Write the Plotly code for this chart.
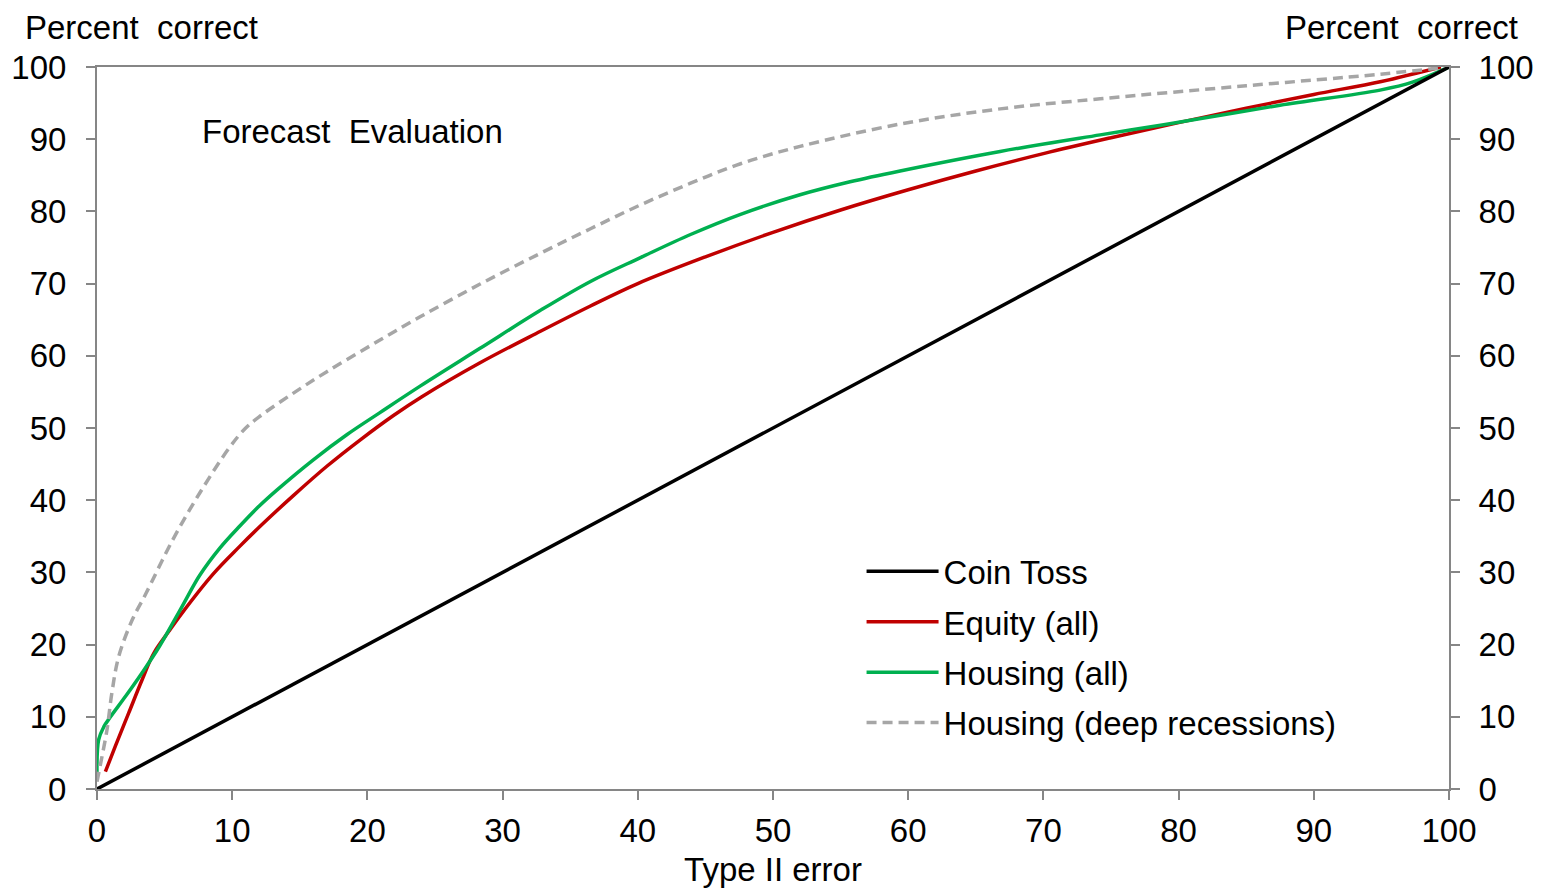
import plotly.graph_objects as go

# ---- data ----
coin_x = [0, 100]
coin_y = [0, 100]

equity_x = [0.62, 1.35, 2.34, 3.33, 4.2, 5.3, 6.3, 8.6, 10.5, 12.3, 14.5, 17.0, 19.5, 21.9, 24.0, 28.3,
            32.8, 36.5, 40.0, 45.0, 50.0, 55.0, 60.0, 65.0, 70.0, 75.0, 80.0, 85.0, 90.0, 95.0, 99.4]
equity_y = [2.4, 5.9, 10.5, 15.1, 18.8, 21.8, 24.4, 29.8, 33.5, 36.8, 40.6, 44.7, 48.4, 51.7, 54.3, 59.0,
            63.4, 66.9, 70.0, 73.7, 77.1, 80.2, 83.0, 85.6, 88.0, 90.2, 92.3, 94.3, 96.2, 98.0, 100.0]

housing_x = [0, 0.12, 0.5, 1.0, 2.1, 3.3, 4.6, 6.3, 7.6, 9.1, 10.6, 12.0, 13.3, 16.0, 18.5, 20.9, 23.9,
             28.3, 32.8, 36.5, 40.2, 43.9, 47.6, 52.0, 55.7, 59.4, 66.8, 74.2, 78.9, 87.5, 94.9, 97.3, 100]
housing_y = [1.7, 6.8, 8.6, 10.0, 12.8, 16.0, 19.7, 25.3, 29.6, 33.4, 36.5, 39.2, 41.4, 45.6, 49.1, 52.1, 55.8,
             61.0, 66.3, 70.3, 73.6, 76.8, 79.6, 82.3, 84.1, 85.6, 88.3, 90.6, 92.0, 94.7, 96.8, 97.9, 100]

deep_x = [0, 0.37, 0.74, 1.1, 1.6, 2.6, 3.6, 5.6, 7.6, 9.8, 11.0, 12.1, 14.5, 17.0, 20.4, 23.9, 28.3,
          32.8, 36.5, 40.2, 43.9, 47.6, 52.0, 59.4, 66.8, 74.2, 85.0, 94.9, 100]
deep_y = [1.0, 4.5, 8.2, 13.3, 18.3, 23.4, 27.0, 34.5, 41.0, 47.3, 50.0, 51.7, 54.8, 57.8, 61.6, 65.4, 69.9,
          74.2, 77.6, 80.9, 83.9, 86.6, 89.0, 92.1, 94.2, 95.6, 97.4, 99.0, 100]

x_ticks = list(range(0, 101, 10))
y_ticks = list(range(0, 101, 10))

FONT = "Liberation Sans, Arial, sans-serif"
FS = 33
AXIS_GRAY = "#868686"

fig = go.Figure()

fig.add_trace(go.Scatter(x=coin_x, y=coin_y, mode="lines", name="Coin Toss",
                         line=dict(color="black", width=3.5), cliponaxis=False,
                         legendgroup="a", yaxis="y2"))
fig.add_trace(go.Scatter(x=equity_x, y=equity_y, mode="lines", name="Equity (all)",
                         line=dict(color="#C00000", width=3.5, shape="spline", smoothing=1.0),
                         cliponaxis=False, legendgroup="b"))
fig.add_trace(go.Scatter(x=housing_x, y=housing_y, mode="lines", name="Housing (all)",
                         line=dict(color="#00B050", width=3.5, shape="spline", smoothing=1.0),
                         cliponaxis=False, legendgroup="c"))
fig.add_trace(go.Scatter(x=deep_x, y=deep_y, mode="lines", name="Housing (deep recessions)",
                         line=dict(color="#A6A6A6", width=3.5, dash="10px,6px", shape="spline", smoothing=1.0),
                         cliponaxis=False, legendgroup="d"))

axis_common = dict(
    showgrid=False, zeroline=False, showline=True, linecolor=AXIS_GRAY, linewidth=2,
    ticks="outside", ticklen=9, tickwidth=2, tickcolor=AXIS_GRAY, automargin=False,
    tickfont=dict(family=FONT, size=FS, color="black"),
)

fig.update_layout(
    width=1539, height=882, autosize=False,
    margin=dict(l=89, r=98, t=59, b=101),
    paper_bgcolor="white", plot_bgcolor="white",
    font=dict(family=FONT, size=FS, color="black"),
    xaxis=dict(range=[0, 100], tickvals=x_ticks, mirror=True, ticklabelstandoff=2,
               title=dict(text="Type II error", font=dict(family=FONT, size=FS), standoff=10),
               **axis_common),
    yaxis=dict(range=[0, 100], tickvals=y_ticks, ticklabelstandoff=13, **axis_common),
    yaxis2=dict(range=[0, 100], tickvals=y_ticks, overlaying="y", side="right",
                ticklabelstandoff=12, **axis_common),
    legend=dict(x=0.5655, y=0.3402, xanchor="left", yanchor="top",
                font=dict(family=FONT, size=FS, color="black"),
                bgcolor="rgba(0,0,0,0)", tracegroupgap=4.5, itemwidth=72),
    showlegend=True,
)

fig.add_annotation(text="Percent  correct", xref="paper", yref="paper",
                   x=-0.055, y=1.0554, xanchor="left", yanchor="middle",
                   showarrow=False, font=dict(family=FONT, size=FS, color="black"))
fig.add_annotation(text="Percent  correct", xref="paper", yref="paper",
                   x=1.0525, y=1.0554, xanchor="right", yanchor="middle",
                   showarrow=False, font=dict(family=FONT, size=FS, color="black"))
fig.add_annotation(text="Forecast  Evaluation", xref="x", yref="y",
                   x=7.65, y=91.1, xanchor="left", yanchor="middle",
                   showarrow=False, font=dict(family=FONT, size=FS, color="black"))

fig.write_html("out.html")
